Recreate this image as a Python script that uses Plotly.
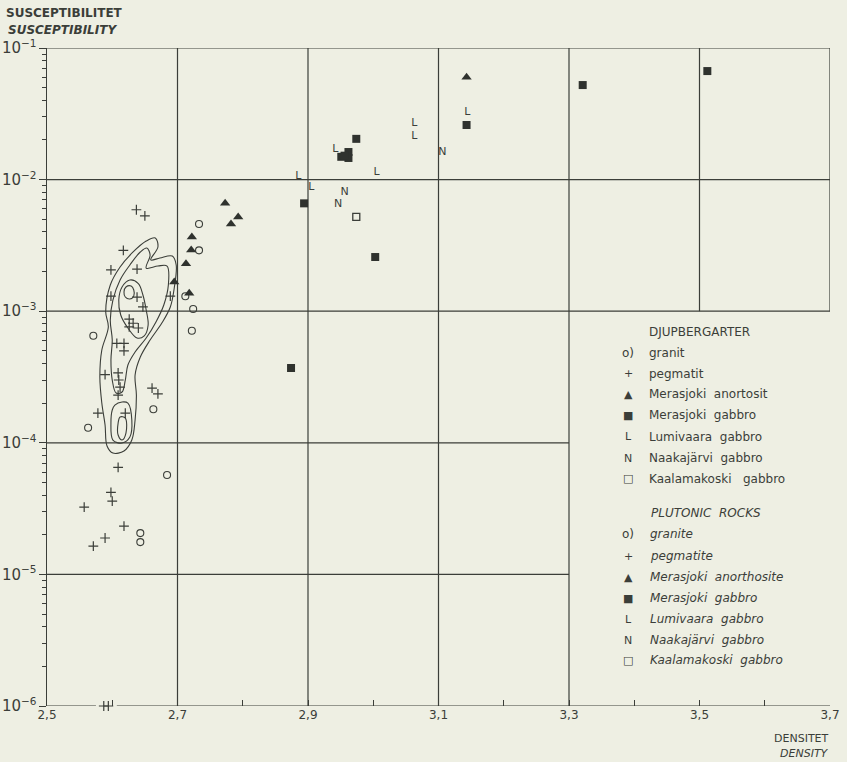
import plotly.graph_objects as go

# ---------------- data ----------------
granit_density = [2.733, 2.733, 2.712, 2.724, 2.722, 2.571, 2.663, 2.563, 2.684, 2.643, 2.643]
granit_susc = [4.6e-3, 2.9e-3, 1.3e-3, 1.04e-3, 7.1e-4, 6.5e-4, 1.8e-4, 1.3e-4, 5.7e-5, 2.06e-5, 1.76e-5]

pegmatit_density = [2.637, 2.650, 2.617, 2.598, 2.638, 2.598, 2.638, 2.647, 2.689, 2.626, 2.632,
                    2.626, 2.640, 2.607, 2.618, 2.618, 2.589, 2.609, 2.610, 2.612, 2.609, 2.661,
                    2.670, 2.578, 2.620, 2.609, 2.598, 2.600, 2.557, 2.618, 2.589, 2.571]
pegmatit_susc = [5.9e-3, 5.3e-3, 2.9e-3, 2.06e-3, 2.09e-3, 1.3e-3, 1.28e-3, 1.08e-3, 1.3e-3, 8.7e-4, 8.1e-4,
                 7.6e-4, 7.45e-4, 5.7e-4, 5.7e-4, 5.0e-4, 3.3e-4, 3.4e-4, 3.0e-4, 2.65e-4, 2.3e-4, 2.6e-4,
                 2.35e-4, 1.68e-4, 1.68e-4, 6.5e-5, 4.2e-5, 3.6e-5, 3.25e-5, 2.33e-5, 1.89e-5, 1.64e-5]
pegmatit_low_density = [2.587, 2.594]
pegmatit_low_susc = [1e-6, 1e-6]

anortosit_density = [3.143, 2.773, 2.793, 2.782, 2.722, 2.721, 2.713, 2.695, 2.718]
anortosit_susc = [0.060, 6.6e-3, 5.2e-3, 4.6e-3, 3.66e-3, 2.92e-3, 2.29e-3, 1.67e-3, 1.37e-3]

merasjoki_gabbro_density = [3.512, 3.321, 3.143, 2.974, 2.962, 2.951, 2.962, 2.956, 2.894, 3.003, 2.874]
merasjoki_gabbro_susc = [0.0668, 0.0523, 0.026, 0.0204, 0.0162, 0.0149, 0.0146, 0.0152, 6.6e-3, 2.58e-3, 3.7e-4]

lumivaara_density = [2.885, 2.905, 2.942, 3.005, 3.063, 3.063, 3.144]
lumivaara_susc = [0.0106, 0.0088, 0.0171, 0.0114, 0.0269, 0.0214, 0.0327]

naakajarvi_density = [3.106, 2.956, 2.946]
naakajarvi_susc = [0.0162, 8.05e-3, 6.5e-3]

kaalamakoski_density = [2.974]
kaalamakoski_susc = [5.2e-3]

# contour lines (density, log10 susceptibility)
outer_d = [2.666, 2.670, 2.659, 2.673, 2.692, 2.698, 2.695, 2.689, 2.676, 2.658, 2.643, 2.635, 2.637,
           2.635, 2.630, 2.618, 2.601, 2.592, 2.589, 2.584, 2.581, 2.584, 2.594, 2.590, 2.597, 2.612,
           2.632, 2.652, 2.666]
outer_l = [-2.444, -2.512, -2.610, -2.596, -2.581, -2.649, -2.824, -2.968, -3.090, -3.219, -3.348, -3.485,
           -3.637, -3.827, -3.979, -4.062, -4.078, -4.024, -3.865, -3.698, -3.500, -3.295, -3.120, -3.006,
           -2.801, -2.664, -2.550, -2.467, -2.444]

middle_d = [2.653, 2.658, 2.652, 2.670, 2.684, 2.686, 2.679, 2.667, 2.652, 2.635, 2.624, 2.620, 2.615,
            2.606, 2.600, 2.598, 2.600, 2.597, 2.601, 2.612, 2.627, 2.643, 2.653]
middle_l = [-2.520, -2.573, -2.672, -2.657, -2.657, -2.801, -2.953, -3.082, -3.204, -3.310, -3.409, -3.523,
            -3.614, -3.622, -3.523, -3.371, -3.219, -3.067, -2.915, -2.763, -2.649, -2.550, -2.520]

inner_d = [2.627, 2.640, 2.647, 2.652, 2.655, 2.649, 2.638, 2.624, 2.613, 2.610, 2.615, 2.627]
inner_l = [-2.763, -2.790, -2.877, -2.991, -3.105, -3.188, -3.204, -3.128, -3.029, -2.915, -2.816, -2.763]

core_d = [2.618, 2.621, 2.629, 2.633, 2.633, 2.627, 2.620, 2.618]
core_l = [-2.854, -2.816, -2.809, -2.839, -2.884, -2.907, -2.892, -2.854]

lower_mid_d = [2.604, 2.615, 2.624, 2.630, 2.627, 2.615, 2.601, 2.598, 2.600, 2.604]
lower_mid_l = [-3.713, -3.690, -3.698, -3.827, -3.956, -4.002, -3.979, -3.850, -3.751, -3.713]

lower_in_d = [2.612, 2.620, 2.621, 2.615, 2.609, 2.609, 2.612]
lower_in_l = [-3.804, -3.812, -3.926, -3.979, -3.941, -3.850, -3.804]

legend_sv = ["granit", "pegmatit", "Merasjoki  anortosit", "Merasjoki  gabbro",
             "Lumivaara  gabbro", "Naakajärvi  gabbro", "Kaalamakoski   gabbro"]
legend_en = ["granite", "pegmatite", "Merasjoki  anorthosite", "Merasjoki  gabbro",
             "Lumivaara  gabbro", "Naakajärvi  gabbro", "Kaalamakoski  gabbro"]
legend_sym = ["o)", "+", "▲", "■", "L", "N", "□"]

# ---------------- style ----------------
INK = "#3b3e39"
BG = "#eeefe3"
FONT = "DejaVu Sans"
W, H = 847, 762
L_M, R_M, T_M, B_M = 47, 17, 48, 56
PW, PH = W - L_M - R_M, H - T_M - B_M


def px(xp):
    return (xp - L_M) / PW


def py(yp):
    return (H - B_M - yp) / PH


fig = go.Figure()

# contours
for cd, cl in [(outer_d, outer_l), (middle_d, middle_l), (inner_d, inner_l), (core_d, core_l),
               (lower_mid_d, lower_mid_l), (lower_in_d, lower_in_l)]:
    fig.add_trace(go.Scatter(x=cd, y=[10 ** v for v in cl], mode="lines",
                             line=dict(color=INK, width=1.1, shape="spline", smoothing=1.0),
                             hoverinfo="skip", showlegend=False))

fig.add_trace(go.Scatter(x=granit_density, y=granit_susc, mode="markers",
                         marker=dict(symbol="circle-open", size=7, color=INK, line=dict(width=1.1)),
                         showlegend=False))
fig.add_trace(go.Scatter(x=pegmatit_density, y=pegmatit_susc, mode="markers",
                         marker=dict(symbol="cross-thin-open", size=7, color=INK, line=dict(width=1.2, color=INK)),
                         showlegend=False))
fig.add_trace(go.Scatter(x=pegmatit_low_density, y=pegmatit_low_susc, mode="markers", cliponaxis=False,
                         marker=dict(symbol="cross-thin-open", size=7, color=INK, line=dict(width=1.2, color=INK)),
                         showlegend=False))
fig.add_trace(go.Scatter(x=anortosit_density, y=anortosit_susc, mode="markers",
                         marker=dict(symbol="triangle-up", size=9, color="#2f322e"),
                         showlegend=False))
fig.add_trace(go.Scatter(x=merasjoki_gabbro_density, y=merasjoki_gabbro_susc, mode="markers",
                         marker=dict(symbol="square", size=8, color="#2f322e"),
                         showlegend=False))
fig.add_trace(go.Scatter(x=kaalamakoski_density, y=kaalamakoski_susc, mode="markers",
                         marker=dict(symbol="square-open", size=7, color=INK, line=dict(width=1.3)),
                         showlegend=False))
fig.add_trace(go.Scatter(x=lumivaara_density, y=lumivaara_susc, mode="text", text=["L"] * len(lumivaara_density),
                         textfont=dict(family=FONT, size=11, color=INK), showlegend=False))
fig.add_trace(go.Scatter(x=naakajarvi_density, y=naakajarvi_susc, mode="text", text=["N"] * len(naakajarvi_density),
                         textfont=dict(family=FONT, size=11, color=INK), showlegend=False))

# grid / frame lines
shapes = []
lw = 1.2


def seg(x0, y0, x1, y1):
    shapes.append(dict(type="line", xref="x", yref="y", x0=x0, y0=y0, x1=x1, y1=y1,
                       line=dict(color=INK, width=lw), layer="below"))


for xv in [2.7, 2.9, 3.1, 3.3]:
    seg(xv, 1e-6, xv, 1e-1)
seg(3.5, 1e-3, 3.5, 1e-1)
seg(3.7, 1e-3, 3.7, 1e-1)
for yv in [1e-1, 1e-2, 1e-3]:
    seg(2.5, yv, 3.7, yv)
for yv in [1e-4, 1e-5]:
    seg(2.5, yv, 3.3, yv)
seg(2.5, 1e-6, 2.575, 1e-6)
seg(2.607, 1e-6, 3.7, 1e-6)

fig.update_layout(shapes=shapes)

ann = []


def txt(x, y, s, size=12, italic=False, bold=False, anchor="left", yanchor="middle"):
    t = s
    if bold:
        t = "<b>" + t + "</b>"
    if italic:
        t = "<i>" + t + "</i>"
    ann.append(dict(xref="paper", yref="paper", x=x, y=y, text=t, showarrow=False,
                    xanchor=anchor, yanchor=yanchor,
                    font=dict(family=FONT, size=size, color=INK)))


txt(px(4), py(13), "SUSCEPTIBILITET", size=12, bold=True)
txt(px(6), py(30), "SUSCEPTIBILITY", size=12, italic=True, bold=True)
txt(px(831), py(738), "DENSITET", size=11, anchor="right")
txt(px(831), py(753), "DENSITY", size=11, italic=True, anchor="right")

# legend
txt(px(647), py(332), "DJUPBERGARTER", size=12)
ys_sv = [353, 373.5, 394, 415, 436.5, 458, 478.5]
for s, sym, yp in zip(legend_sv, legend_sym, ys_sv):
    txt(px(628), py(yp), sym, size=11 if sym not in ("o)",) else 12, anchor="center")
    txt(px(647), py(yp), s, size=12)
txt(px(649), py(513), "PLUTONIC  ROCKS", size=12, italic=True)
ys_en = [534, 556, 577, 598, 619, 640, 660]
for s, sym, yp in zip(legend_en, legend_sym, ys_en):
    txt(px(628), py(yp), sym, size=11 if sym not in ("o)",) else 12, anchor="center")
    txt(px(648), py(yp), s, size=12, italic=True)

fig.update_layout(annotations=ann)

fig.update_layout(
    width=W, height=H,
    margin=dict(l=L_M, r=R_M, t=T_M, b=B_M, pad=0, autoexpand=False),
    paper_bgcolor=BG, plot_bgcolor=BG,
    separators=", ",
    showlegend=False,
    font=dict(family=FONT, size=12, color=INK),
    xaxis=dict(range=[2.5, 3.7], showgrid=False, zeroline=False, showline=False, automargin=False,
               tick0=2.5, dtick=0.2, tickformat=".1f", ticks="inside", ticklen=6,
               tickcolor=INK, tickwidth=1.2,
               minor=dict(dtick=0.1, ticks="inside", ticklen=6, tickcolor=INK, tickwidth=1.2, showgrid=False),
               tickfont=dict(family=FONT, size=12, color=INK)),
    yaxis=dict(type="log", range=[-6, -1], showgrid=False, zeroline=False, automargin=False,
               showline=True, linecolor=INK, linewidth=1.2,
               dtick=1, exponentformat="power", showexponent="all",
               ticks="outside", ticklen=7, tickcolor=INK, tickwidth=1.2,
               minor=dict(ticks="outside", ticklen=4, tickcolor=INK, tickwidth=1, showgrid=False),
               tickfont=dict(family=FONT, size=12, color=INK)),
)

fig.write_html("out.html", config={"displayModeBar": False},
               post_script="document.body.style.margin='0px';"
                           "document.body.style.background='" + BG + "';"
                           "document.body.style.overflow='hidden';")
